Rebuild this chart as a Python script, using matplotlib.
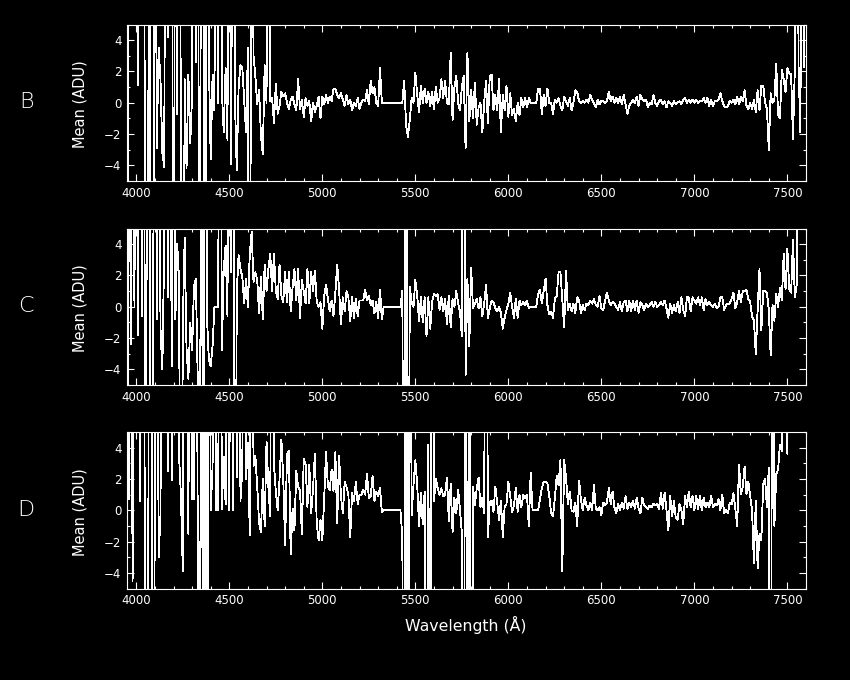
import numpy as np
import matplotlib
matplotlib.use("Agg")
import matplotlib.pyplot as plt
from matplotlib.ticker import MultipleLocator

# values, one every 10 A from 3950, off-scale spikes kept as +-30
mean_b = [
    -30, 30, 30, 30, 30,
    30, 1.1, 30, 30, 30, -30, -30, 30, -30, -30,
    30, -2.9, 3.5, 1.5, -3.2, -4.1, 30, 4.2, 30, 30,
    -30, 30, -0.7, 30, -3.7, -30, 1.5, -4.2, 1.8, -2.6,
    0.5, 30, 2.6, 30, -30, 30, 30, -30, 30, 2.7,
    -3.6, 1.8, -0.5, 30, 0, 30, 0.7, -1.9, 2.2, -2.4,
    30, -3.9, 30, 0.2, -4.3, 1.0, 2.4, 2.2, 0.2, -1.9,
    3.5, -30, 30, 3.0, 1.7, -0.1, 0.8, -2.1, -3.3, 2.4,
    0, 30, 0.1, 0.3, -1.3, 1.2, -0.7, -0.2, 0.7, 0.4,
    0.6, 0, -0.4, 0.2, 0.4, -0.1, -0.5, 1.5, -0.4, 0.2,
    -0.9, 0.3, -0.2, 0.1, -1.2, 0, -0.6, -0.2, 0.4, -1,
    0.4, -0.1, 0.5, 0, 0.4, 0.1, 0.9, 0.9, 0.5, 0.3,
    0.6, 0.2, -0.2, 0.5, -0.1, 0.2, -0.5, 0, -0.2, 0.3,
    -0.4, 0, 0.2, 0.1, 0.8, -0.1, 1.4, 0.6, 1, 0,
    -0.2, 2.2, 0, 0, 0, 0, 0, 0, 0, 0,
    0, 0, 0, 0, 1.4, -1.4, -2.2, -1.1, 0.3, 0,
    1.9, 0.5, -0.6, 1.1, 0, 0.9, 0, 0.7, -0.2, 0.7,
    -0.4, 1.0, 0, 0.3, 1.5, 0.3, 1.4, 0, -0.1, 3.2,
    -1.1, 1.0, 1.7, 0, -0.5, 1, 1.7, -2.9, 3.2, -1.2,
    0.8, -1, 1.3, -1.4, -0.3, 0, -1.9, 0, 1.4, -1.3,
    1.7, 1.8, -0.5, 0.5, -0.5, 1.5, -1.9, 0.5, -0.5, 1.1,
    -0.9, 0.6, -0.8, -0.4, -1.2, 0, -0.8, 0.3, -0.3, 0.3,
    -0.3, 0.3, 0, 0, 0, 0, 0.9, 0.9, -0.7, 0.5,
    -0.2, 0.9, 0, 0, -0.7, 0.2, 0, 0.3, -0.2, -0.5,
    0.4, 0.1, -0.2, 0.3, -0.5, 0, 0.8, 0.7, 0.1, 0,
    0.1, 0, 0.2, 0, 0.5, 0.2, 0, -0.3, 0.2, -0.1,
    0.1, 0.1, 0, 0.1, 0.7, 0.1, 0.4, 0, 0.3, 0,
    0.4, -0.1, 0.5, -0.1, -0.7, -0.2, 0, 0.2, 0, 0.4,
    -0.2, 0.5, 0.2, 0.1, 0.2, -0.3, 0, -0.1, 0.5, 0,
    -0.2, 0.1, 0.2, -0.1, 0.1, -0.3, 0.1, 0, -0.2, 0.1,
    -0.1, 0, 0.1, -0.1, 0.2, 0.3, 0, 0.2, 0, 0.2,
    0, 0.2, 0, 0.1, 0.1, 0.3, 0, 0.3, -0.2, 0.2,
    -0.2, 0.1, 0.1, 0.2, 0.6, 0.1, -0.2, -0.3, -0.2, 0.1,
    0, 0.2, -0.1, 0.4, -0.1, 0.4, 0.1, 0.8, -0.2, -0.4,
    0, -0.4, 0.2, -0.6, 0.8, -0.5, 1.1, 1.1, 0, -0.4,
    -3.0, 0.6, 0, 0.2, 2.5, -0.8, -1, 2.1, 1.5, 0.7,
    2.2, 1.9, 1.8, -2.3, 2.2, 30, 2.3, -1.9, 30, 2.3, 30,
]

mean_c = [
    -30, 30, -2.4, 30, 0,
    30, -1.8, 30, -0.6, 30, -30, 30, 30, -30, -1.6,
    30, -0.8, 30, -1.4, -4, 3.7, 30, 0.6, 30, -3.8,
    30, -0.8, 4, 1.7, -30, -1.2, 4.4, -2.7, -4.6, -1,
    -2.8, 1.3, 1.8, -4.5, -30, 30, -30, 30, -0.7, -3.4,
    -3.8, -2.5, 0, 0, 0, 30, -2.8, 2.4, 3.9, -0.6,
    30, 2.2, 30, -30, 1, 3.3, 2.4, 1.9, 0.2, 1.8,
    0, 3.4, 4.8, 1.6, 2.2, 1.7, -0.4, 1.9, -0.8, 2.7,
    1, 2.4, 3.4, 1, 3.4, 1.0, 0.5, 2.7, 0.7, 0.3,
    2.2, 0.3, 2.2, -0.3, 1.2, 2.4, 0.4, 2.4, -0.7, 1.7,
    1, 0.2, 2.4, 0.2, 2.2, 1, 2.3, 0.3, 0, 0.3,
    -1.4, 0.7, 1.4, 0.5, -0.3, 0.4, -0.6, 0.9, 2.7, 1.1,
    -1.1, 0.6, -0.3, 1, 0.6, -0.9, 0.6, -0.7, 0.5, -0.6,
    0.4, 0.4, 0.4, 1.1, 0.4, 0.7, 0.1, 0.4, -0.4, 0.3,
    -0.7, 1.1, -0.8, 0, 0, 0, 0, 0, 0, 0,
    0, 0, 0, 1, -30, 30, -30, 1.3, 0.3, 0,
    1.7, 0.7, -0.9, 0.6, -1, 0.6, -1.9, 0.6, -1.4, 0.3,
    0.8, 0.7, 0.8, -0.2, 0.6, -0.3, 0.5, -1.1, 0.7, -1.3,
    0.5, 0, 1, 0.2, -0.3, -1.9, 30, -4.4, 1.8, -2.5,
    2.5, -0.1, 0.2, 0.5, -0.1, 0.6, -0.6, 0.2, 1.4, -0.7,
    -0.1, 0.4, 0.3, -0.1, -0.3, 0, -0.4, -1.4, -0.7, -0.2,
    0.2, 0.9, 0, -0.7, 0.5, -0.7, 0.4, 0.1, 0.3, 0.1,
    0.4, -0.1, 0, 0, 0, 0, 0.8, 1.1, 0.2, 1.0,
    1.8, 0.1, -0.5, -0.3, -0.7, 0.5, 0.7, 2.2, 2.2, 0.5,
    -1.3, 2.3, -0.2, 0.2, -0.3, 0.2, -0.4, 0.6, 0.4, -0.4,
    0.1, -0.2, 0.2, 0.1, 0.4, 0.2, 0.5, 0.1, 0, 0.7,
    -0.1, -0.2, 0.4, 0.9, 0.4, 0.1, 0.3, 0.2, 0, -0.2,
    0.3, -0.3, 0.3, 0.4, -0.3, 0.4, -0.3, 0.4, -0.2, 0.4,
    -0.4, 0.3, 0.1, -0.2, 0.2, 0, 0.1, 0.3, 0, 0.3,
    0, 0.1, 0.3, 0.1, 0.4, -0.1, -0.7, 0.2, -0.4, 0.1,
    -0.3, 0.3, -0.4, 0.6, -0.2, -0.6, 0.6, 0.6, -0.3, 0.6,
    0.4, 0.2, 0.6, 0.1, 0.6, -0.2, 0.5, 0.1, 0.3, 0.1,
    0, 0.2, -0.1, 0, 0.6, 0.6, -0.2, 0.1, 0.2, 0.2,
    0.5, 0.9, -0.1, 0.3, 1, 0.3, 1, 1, 1.1, 0.5,
    0.3, -0.6, -0.9, -3, -0.2, 2.4, -1.5, 1.0, 1, 0.9,
    -0.2, -3.1, 0.1, -0.9, 0.8, 0, 1.2, 0.4, 3.4, 1.1,
    3.7, 1.1, 0.9, 4.3, 0.6, 1.4, 30,
]

mean_d = [
    30, 0.7, 30, -4.5, 30,
    30, 30, 0.6, 30, 30, -30, -30, 30, 30, -30,
    2.3, 30, -3, -0.3, 30, 30, 30, 2.5, 30, 1.9,
    30, 30, 30, 3.4, 0.9, -3.9, 30, 30, -1.5, 30,
    0.7, 0.7, 30, -1.5, -30, 30, -30, 30, -30, 30,
    0, 2.8, 30, 0, 0, 30, 0.1, 3.4, 0.4, 30,
    0, 30, 0, 30, 2.1, 30, 0.6, 2.7, 30, 2,
    4.3, -1.6, 30, 2.8, 3.5, 1.5, -0.8, -1.4, 2, -1,
    4.4, 1.5, -0.4, 30, 2.9, 1.2, 0, 2, 4.5, 2,
    -2.2, 3.6, 3.8, -2.8, 0.1, -1.3, 2.5, 1.5, 1.3, -1.5,
    3.3, 2.9, 0.2, 2.9, -0.2, 1.4, 3.6, -0.9, -1.9, -0.6,
    -1.9, 0.8, 3.7, 1.5, 1.3, 2.6, 1.2, 3.7, -0.8, 3.5,
    0.9, -0.2, 1.8, 1.5, 1.0, -1.7, 1.1, 0.6, 1.8, 0.4,
    1.0, 1, 1.3, 1, 2.3, 0.8, 0.9, 2.2, 0.6, 1.2,
    0.9, 1.4, -0.1, 0, 0, 0, 0, 0, 0, 0,
    0, 0, 0, -1.7, -30, 30, -30, 30, -0.3, 1.6,
    3.2, 1.6, -1, 1.1, -0.9, 1.2, -30, 4.2, -30, 30,
    0.6, 2, 1.4, 1, 1.4, 0.9, 1.0, 2.1, -0.7, 1.7,
    -1.4, 0.8, -0.2, 1.3, 0, -1.4, -30, 30, -30, 30,
    -30, 1.5, 0.3, 1.4, 2.1, 0.2, 0.8, -0.2, 30, -1.7,
    0.5, 0.6, -0.1, 1.5, 0.5, -0.6, 0.6, -1.7, 0.2, 0.4,
    1.8, 0.9, -0.1, 0.3, 1.4, -0.1, 1, 0.2, 1, 0.8,
    1, -1.0, 2.4, 0, 0, 0, 0, 0.7, 1.4, 1.8,
    1.8, 1.7, 0.9, -0.2, -0.4, 0.8, 2.2, 1.6, 3.2, -3.9,
    3.2, 2.1, 0.4, 1.2, 0, -0.1, 0.5, -1, 1.9, 0.7,
    0, 0.8, 0.3, 0, 0.5, 0, 1.6, 0.1, 0, 0.2,
    -0.3, 0.5, 0.3, 0.5, 1.4, 0.4, 1.2, 0.2, -0.2, 0.4,
    0, 0.5, 0.1, 0.9, 0.1, 0.5, 0.2, 0.6, 0.1, 0.8,
    0.1, -0.2, 0.8, 0.3, 0.2, 0.1, 0.3, 0.2, 0.4, 0.3,
    0.4, 0.1, 1.1, 0.1, 1.1, 0, -1.3, 0.9, -0.4, 0.6,
    -0.5, -0.6, 0.4, 0, -0.9, 0.9, 0.2, 1.2, 0.2, 0.9,
    0, 0.9, 0.1, 0.9, 0, 0.8, 0.2, 0.5, 0.2, 0.9,
    0.2, 0.4, 0.3, 0.7, 0, 1.0, -0.2, 0, -0.2, 0.5,
    0.4, 1.1, 0.1, -1, 2.9, 1.0, 1.5, 2.8, 1, 1.8,
    0.9, 0, -3.4, 0.6, -3.7, -1.5, -1.9, 1.7, 2, 0.2,
    2.7, -30, 30, -1, 2.3, 2.6, 4.2, 3.8, 30, 30,
    3.6, 30,
]

panel_names = ["B", "C", "D"]
panel_data = [mean_b, mean_c, mean_d]
panel_top = [24.5, 228.5, 432]
panel_h = 156.5
W, H = 850.0, 680.0
left, right = 127.0, 806.0

plt.rcParams["font.family"] = "DejaVu Sans"
fig = plt.figure(figsize=(8.5, 6.8), dpi=100, facecolor="black")

for name, vals, top in zip(panel_names, panel_data, panel_top):
    ax = fig.add_axes([left / W, 1 - (top + panel_h) / H, (right - left) / W, panel_h / H])
    ax.set_facecolor("black")
    wl = 3950 + 10 * np.arange(len(vals))
    ax.plot(wl, vals, color="white", lw=0.6, antialiased=False)
    ax.set_xlim(3950, 7600)
    ax.set_ylim(-5, 5)
    ax.xaxis.set_major_locator(MultipleLocator(500))
    ax.xaxis.set_minor_locator(MultipleLocator(100))
    ax.yaxis.set_major_locator(MultipleLocator(2))
    ax.yaxis.set_minor_locator(MultipleLocator(1))
    ax.tick_params(which="both", direction="in", top=True, right=True, color="white",
                   labelcolor="white", width=0.8, labelsize=8.5)
    ax.tick_params(which="major", length=5, pad=4)
    ax.tick_params(which="minor", length=2.5)
    for s in ax.spines.values():
        s.set_color("white")
        s.set_linewidth(0.8)
    fig.text(26 / W, 1 - (top + 78) / H, name, color="white", fontsize=16,
             ha="center", va="center", fontweight="ultralight")
    fig.text(80 / W, 1 - (top + 80) / H, "Mean (ADU)", color="white", fontsize=10.5,
             rotation=90, ha="center", va="center")

fig.text(466 / W, 1 - 625 / H, "Wavelength (Å)", color="white", fontsize=11.3,
         ha="center", va="center")

fig.savefig("out.png", dpi=100, facecolor="black")
